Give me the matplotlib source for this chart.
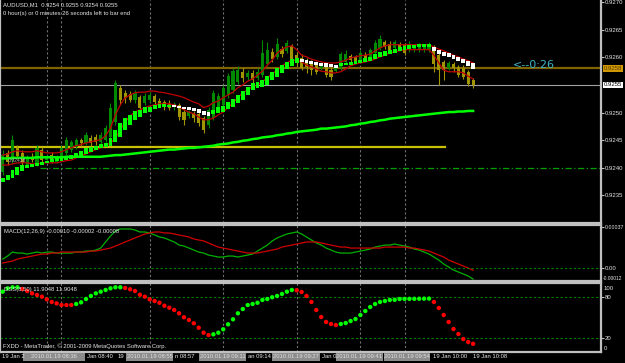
import matplotlib
matplotlib.use("Agg")
import matplotlib.pyplot as plt
from matplotlib.patches import Rectangle
import numpy as np

# AUDUSD M1, 19 Jan 2010, one value per bar (oldest first)
opens = [0.92393, 0.92427, 0.92414, 0.92436, 0.92427, 0.92405, 0.92420, 0.92405, 0.92433, 0.92414,
         0.92423, 0.92411, 0.92418, 0.92427, 0.92433, 0.92438, 0.92451, 0.92445, 0.92454, 0.92456,
         0.92447, 0.92451, 0.92456, 0.92483, 0.92545, 0.92536, 0.92534, 0.92523, 0.92528, 0.92518,
         0.92523, 0.92530, 0.92521, 0.92519, 0.92516, 0.92510, 0.92514, 0.92501, 0.92494, 0.92499,
         0.92498, 0.92490, 0.92478, 0.92490, 0.92505, 0.92514, 0.92532, 0.92541, 0.92556, 0.92574,
         0.92565, 0.92572, 0.92563, 0.92568, 0.92588, 0.92610, 0.92601, 0.92615, 0.92612, 0.92621,
         0.92604, 0.92599, 0.92595, 0.92590, 0.92586, 0.92581, 0.92585, 0.92577, 0.92575, 0.92581,
         0.92592, 0.92603, 0.92601, 0.92595, 0.92604, 0.92601, 0.92608, 0.92617, 0.92628, 0.92624,
         0.92617, 0.92624, 0.92623, 0.92614, 0.92614, 0.92614, 0.92614, 0.92614, 0.92617, 0.92604,
         0.92592, 0.92581, 0.92588, 0.92583, 0.92581, 0.92574, 0.92559]
highs = [0.92433, 0.92433, 0.92460, 0.92442, 0.92433, 0.92423, 0.92427, 0.92442, 0.92438, 0.92423,
         0.92429, 0.92423, 0.92442, 0.92456, 0.92451, 0.92454, 0.92454, 0.92465, 0.92460, 0.92461,
         0.92465, 0.92478, 0.92518, 0.92559, 0.92550, 0.92541, 0.92539, 0.92541, 0.92532, 0.92536,
         0.92537, 0.92534, 0.92527, 0.92523, 0.92523, 0.92519, 0.92518, 0.92509, 0.92505, 0.92503,
         0.92503, 0.92494, 0.92510, 0.92541, 0.92536, 0.92550, 0.92572, 0.92581, 0.92585, 0.92581,
         0.92577, 0.92577, 0.92581, 0.92632, 0.92628, 0.92617, 0.92635, 0.92621, 0.92632, 0.92624,
         0.92610, 0.92606, 0.92599, 0.92595, 0.92592, 0.92592, 0.92588, 0.92583, 0.92586, 0.92610,
         0.92614, 0.92606, 0.92604, 0.92614, 0.92610, 0.92617, 0.92632, 0.92641, 0.92632, 0.92630,
         0.92632, 0.92628, 0.92626, 0.92630, 0.92623, 0.92626, 0.92623, 0.92628, 0.92623, 0.92610,
         0.92595, 0.92594, 0.92592, 0.92586, 0.92586, 0.92577, 0.92563]
lows = [0.92387, 0.92405, 0.92409, 0.92418, 0.92405, 0.92402, 0.92411, 0.92404, 0.92409, 0.92411,
        0.92409, 0.92409, 0.92414, 0.92423, 0.92429, 0.92434, 0.92440, 0.92442, 0.92440, 0.92442,
        0.92443, 0.92447, 0.92451, 0.92478, 0.92514, 0.92518, 0.92519, 0.92518, 0.92505, 0.92514,
        0.92519, 0.92516, 0.92510, 0.92505, 0.92505, 0.92505, 0.92487, 0.92478, 0.92490, 0.92483,
        0.92476, 0.92463, 0.92472, 0.92487, 0.92501, 0.92509, 0.92527, 0.92536, 0.92552, 0.92556,
        0.92559, 0.92554, 0.92559, 0.92565, 0.92585, 0.92592, 0.92597, 0.92601, 0.92608, 0.92588,
        0.92585, 0.92577, 0.92572, 0.92568, 0.92570, 0.92577, 0.92565, 0.92559, 0.92574, 0.92577,
        0.92588, 0.92592, 0.92590, 0.92592, 0.92595, 0.92597, 0.92604, 0.92614, 0.92615, 0.92610,
        0.92614, 0.92615, 0.92604, 0.92610, 0.92610, 0.92610, 0.92610, 0.92610, 0.92574, 0.92550,
        0.92559, 0.92577, 0.92574, 0.92565, 0.92561, 0.92548, 0.92545]
closes = [0.92423, 0.92411, 0.92451, 0.92422, 0.92409, 0.92420, 0.92414, 0.92436, 0.92414, 0.92420,
          0.92413, 0.92420, 0.92436, 0.92451, 0.92447, 0.92451, 0.92445, 0.92460, 0.92445, 0.92447,
          0.92460, 0.92472, 0.92509, 0.92554, 0.92523, 0.92527, 0.92523, 0.92536, 0.92509, 0.92530,
          0.92532, 0.92519, 0.92514, 0.92512, 0.92509, 0.92516, 0.92492, 0.92487, 0.92501, 0.92490,
          0.92481, 0.92469, 0.92505, 0.92536, 0.92530, 0.92545, 0.92566, 0.92575, 0.92577, 0.92563,
          0.92572, 0.92559, 0.92574, 0.92608, 0.92614, 0.92597, 0.92624, 0.92606, 0.92626, 0.92592,
          0.92590, 0.92581, 0.92583, 0.92577, 0.92574, 0.92588, 0.92568, 0.92565, 0.92583, 0.92606,
          0.92606, 0.92595, 0.92594, 0.92608, 0.92599, 0.92614, 0.92626, 0.92633, 0.92619, 0.92614,
          0.92628, 0.92619, 0.92608, 0.92624, 0.92619, 0.92621, 0.92619, 0.92624, 0.92588, 0.92577,
          0.92577, 0.92590, 0.92581, 0.92568, 0.92565, 0.92552, 0.92550]

# smoothed heiken ashi blocks (lime = up, white = down)
ha_open = [0.92375, 0.92378, 0.92382, 0.92387, 0.92395, 0.92400, 0.92402, 0.92404, 0.92405, 0.92409,
           0.92411, 0.92413, 0.92413, 0.92414, 0.92416, 0.92418, 0.92422, 0.92425, 0.92429, 0.92433,
           0.92436, 0.92438, 0.92440, 0.92447, 0.92456, 0.92469, 0.92478, 0.92487, 0.92492, 0.92499,
           0.92501, 0.92507, 0.92509, 0.92510, 0.92510, 0.92514, 0.92512, 0.92510, 0.92510, 0.92509,
           0.92507, 0.92503, 0.92501, 0.92498, 0.92499, 0.92501, 0.92507, 0.92510, 0.92518, 0.92523,
           0.92532, 0.92541, 0.92545, 0.92547, 0.92550, 0.92559, 0.92565, 0.92572, 0.92579, 0.92585,
           0.92590, 0.92597, 0.92595, 0.92594, 0.92592, 0.92590, 0.92590, 0.92588, 0.92586, 0.92585,
           0.92586, 0.92586, 0.92588, 0.92590, 0.92592, 0.92594, 0.92597, 0.92601, 0.92603, 0.92606,
           0.92608, 0.92612, 0.92614, 0.92615, 0.92617, 0.92619, 0.92619, 0.92619, 0.92619, 0.92614,
           0.92610, 0.92608, 0.92604, 0.92601, 0.92597, 0.92594, 0.92590]
ha_close = [0.92382, 0.92387, 0.92396, 0.92402, 0.92405, 0.92405, 0.92407, 0.92409, 0.92411, 0.92413,
            0.92416, 0.92418, 0.92420, 0.92420, 0.92423, 0.92427, 0.92431, 0.92436, 0.92438, 0.92440,
            0.92443, 0.92445, 0.92454, 0.92469, 0.92481, 0.92490, 0.92496, 0.92503, 0.92505, 0.92510,
            0.92510, 0.92514, 0.92516, 0.92516, 0.92514, 0.92510, 0.92509, 0.92507, 0.92505, 0.92503,
            0.92499, 0.92496, 0.92494, 0.92505, 0.92510, 0.92512, 0.92519, 0.92525, 0.92532, 0.92539,
            0.92547, 0.92554, 0.92556, 0.92559, 0.92566, 0.92574, 0.92581, 0.92586, 0.92592, 0.92597,
            0.92599, 0.92592, 0.92590, 0.92588, 0.92586, 0.92585, 0.92583, 0.92583, 0.92581, 0.92590,
            0.92590, 0.92592, 0.92594, 0.92595, 0.92599, 0.92601, 0.92606, 0.92610, 0.92612, 0.92614,
            0.92615, 0.92619, 0.92621, 0.92623, 0.92623, 0.92624, 0.92624, 0.92624, 0.92612, 0.92606,
            0.92603, 0.92601, 0.92597, 0.92594, 0.92590, 0.92585, 0.92579]

# red channel (MA of highs / MA of lows) and the slow green MA
ma_high = [0.92423, 0.92425, 0.92429, 0.92431, 0.92429, 0.92429, 0.92429, 0.92431, 0.92429, 0.92427,
           0.92427, 0.92427, 0.92429, 0.92433, 0.92436, 0.92440, 0.92442, 0.92445, 0.92447, 0.92449,
           0.92451, 0.92458, 0.92472, 0.92496, 0.92514, 0.92527, 0.92532, 0.92536, 0.92537, 0.92537,
           0.92539, 0.92539, 0.92537, 0.92536, 0.92534, 0.92532, 0.92530, 0.92527, 0.92523, 0.92519,
           0.92516, 0.92509, 0.92512, 0.92518, 0.92521, 0.92527, 0.92532, 0.92537, 0.92545, 0.92550,
           0.92557, 0.92561, 0.92568, 0.92575, 0.92586, 0.92595, 0.92608, 0.92615, 0.92619, 0.92621,
           0.92614, 0.92604, 0.92601, 0.92597, 0.92594, 0.92592, 0.92590, 0.92590, 0.92590, 0.92592,
           0.92595, 0.92599, 0.92601, 0.92603, 0.92604, 0.92606, 0.92612, 0.92617, 0.92621, 0.92623,
           0.92623, 0.92623, 0.92623, 0.92623, 0.92623, 0.92623, 0.92623, 0.92623, 0.92619, 0.92615,
           0.92612, 0.92608, 0.92604, 0.92601, 0.92597, 0.92594, 0.92590]
ma_low = [0.92405, 0.92405, 0.92407, 0.92409, 0.92409, 0.92409, 0.92407, 0.92407, 0.92409, 0.92409,
          0.92409, 0.92409, 0.92411, 0.92413, 0.92414, 0.92418, 0.92422, 0.92425, 0.92429, 0.92433,
          0.92436, 0.92440, 0.92445, 0.92454, 0.92469, 0.92483, 0.92494, 0.92501, 0.92505, 0.92509,
          0.92512, 0.92514, 0.92516, 0.92516, 0.92516, 0.92514, 0.92510, 0.92505, 0.92501, 0.92498,
          0.92492, 0.92487, 0.92487, 0.92490, 0.92496, 0.92501, 0.92509, 0.92518, 0.92527, 0.92536,
          0.92541, 0.92547, 0.92550, 0.92556, 0.92563, 0.92570, 0.92577, 0.92585, 0.92590, 0.92595,
          0.92595, 0.92592, 0.92586, 0.92583, 0.92579, 0.92575, 0.92574, 0.92572, 0.92572, 0.92574,
          0.92579, 0.92585, 0.92588, 0.92590, 0.92592, 0.92594, 0.92597, 0.92601, 0.92604, 0.92608,
          0.92610, 0.92612, 0.92614, 0.92614, 0.92614, 0.92614, 0.92614, 0.92614, 0.92604, 0.92590,
          0.92577, 0.92574, 0.92574, 0.92574, 0.92572, 0.92566, 0.92561]
ma_slow = [0.92417, 0.92417, 0.92418, 0.92418, 0.92418, 0.92418, 0.92418, 0.92419, 0.92419, 0.92419,
           0.92419, 0.92419, 0.92419, 0.92420, 0.92420, 0.92420, 0.92420, 0.92420, 0.92420, 0.92420,
           0.92420, 0.92421, 0.92422, 0.92423, 0.92423, 0.92424, 0.92425, 0.92426, 0.92427, 0.92428,
           0.92429, 0.92430, 0.92431, 0.92432, 0.92433, 0.92433, 0.92434, 0.92435, 0.92436, 0.92436,
           0.92437, 0.92438, 0.92439, 0.92440, 0.92442, 0.92443, 0.92444, 0.92446, 0.92447, 0.92449,
           0.92450, 0.92452, 0.92453, 0.92455, 0.92456, 0.92457, 0.92459, 0.92460, 0.92462, 0.92463,
           0.92465, 0.92466, 0.92467, 0.92468, 0.92469, 0.92471, 0.92471, 0.92472, 0.92473, 0.92474,
           0.92475, 0.92477, 0.92478, 0.92480, 0.92481, 0.92483, 0.92484, 0.92486, 0.92487, 0.92489,
           0.92490, 0.92491, 0.92492, 0.92493, 0.92494, 0.92495, 0.92496, 0.92497, 0.92498, 0.92499,
           0.92500, 0.92501, 0.92501, 0.92502, 0.92502, 0.92503, 0.92503]

# MACD(12,26,9) main and signal
macd_main = [0.000081, 0.000108, 0.000144, 0.000135, 0.000135, 0.000126, 0.000135, 0.000144, 0.000135, 0.000144,
             0.000144, 0.000135, 0.000135, 0.000135, 0.000135, 0.000144, 0.000144, 0.000153, 0.000153, 0.000162,
             0.000180, 0.000235, 0.000289, 0.000334, 0.000352, 0.000352, 0.000352, 0.000343, 0.000325, 0.000325,
             0.000316, 0.000298, 0.000280, 0.000271, 0.000253, 0.000235, 0.000207, 0.000198, 0.000180, 0.000162,
             0.000144, 0.000135, 0.000117, 0.000108, 0.000099, 0.000099, 0.000108, 0.000108, 0.000099, 0.000108,
             0.000117, 0.000126, 0.000153, 0.000180, 0.000207, 0.000244, 0.000271, 0.000289, 0.000307, 0.000316,
             0.000325, 0.000307, 0.000280, 0.000253, 0.000226, 0.000207, 0.000180, 0.000162, 0.000144, 0.000135,
             0.000135, 0.000135, 0.000144, 0.000153, 0.000162, 0.000171, 0.000189, 0.000198, 0.000207, 0.000207,
             0.000216, 0.000207, 0.000198, 0.000189, 0.000171, 0.000162, 0.000144, 0.000126, 0.000099, 0.000072,
             0.000036, 0.000009, -0.000018, -0.000036, -0.000054, -0.000072, -0.000100]
macd_signal = [0.000045, 0.000054, 0.000063, 0.000081, 0.000090, 0.000099, 0.000108, 0.000117, 0.000126, 0.000126,
               0.000135, 0.000135, 0.000144, 0.000144, 0.000144, 0.000144, 0.000144, 0.000144, 0.000153, 0.000153,
               0.000162, 0.000171, 0.000180, 0.000198, 0.000216, 0.000235, 0.000253, 0.000271, 0.000289, 0.000307,
               0.000316, 0.000325, 0.000325, 0.000316, 0.000316, 0.000307, 0.000298, 0.000289, 0.000280, 0.000262,
               0.000253, 0.000244, 0.000226, 0.000207, 0.000189, 0.000180, 0.000171, 0.000162, 0.000153, 0.000144,
               0.000135, 0.000135, 0.000135, 0.000144, 0.000153, 0.000162, 0.000171, 0.000189, 0.000198, 0.000207,
               0.000216, 0.000226, 0.000235, 0.000235, 0.000235, 0.000226, 0.000216, 0.000207, 0.000198, 0.000189,
               0.000189, 0.000180, 0.000180, 0.000180, 0.000180, 0.000180, 0.000180, 0.000180, 0.000189, 0.000189,
               0.000189, 0.000189, 0.000189, 0.000180, 0.000180, 0.000171, 0.000162, 0.000153, 0.000135, 0.000117,
               0.000099, 0.000072, 0.000054, 0.000036, 0.000018, 0.000000, -0.000020]

# DSS oscillator
dss = [87.4, 92.3, 93.8, 93.8, 91.3, 88.4, 85.0, 82.6, 80.2, 76.3,
       72.5, 70.5, 68.1, 68.1, 68.1, 69.6, 72.0, 76.8, 81.2, 85.0,
       87.4, 89.9, 92.3, 93.8, 93.8, 92.8, 90.9, 88.4, 83.0, 80.2,
       76.3, 73.9, 71.4, 67.1, 64.2, 60.9, 56.1, 50.3, 46.4, 41.6,
       35.2, 28.0, 24.6, 25.6, 28.0, 32.9, 40.1, 47.4, 56.1, 62.3,
       68.1, 69.6, 71.4, 75.4, 76.8, 79.3, 81.2, 84.1, 87.4, 89.9,
       89.5, 87.0, 81.2, 72.5, 60.9, 50.7, 43.5, 40.6, 39.1, 40.6,
       42.0, 44.9, 47.8, 53.6, 59.4, 65.2, 69.6, 72.5, 73.9, 75.4,
       75.6, 76.8, 76.9, 77.0, 77.1, 77.2, 77.3, 77.4, 72.5, 63.8,
       53.6, 43.5, 33.3, 26.1, 18.8, 14.5, 11.9]

# horizontal levels
resist_level = 0.92580
support_level = 0.92438
round_level = 0.92400
bid = 0.92550
price_ticks = [0.9235, 0.9240, 0.9245, 0.9250, 0.9260, 0.9265, 0.9270]

# period separators (bar index) and what shows of the time axis labels
sep_bars = [9, 12, 30, 45, 60, 73, 82]
time_labels = [(2, "19 Jan 2"), (87, "Jan 08:40"), (118, "19"), (175, "n 08:57"),
               (248, "an 09:14"), (322, "Jan 0"), (433, "19 Jan 10:00"), (473, "19 Jan 10:08")]
vline_labels = [(23, 85, "2010.01.19 08:36"), (126, 173, "2010.01.19 08:55"), (199, 246, "2010.01.19 09:11"),
                (272, 320, "2010.01.19 09:27"), (336, 383, "2010.01.19 09:41"), (384, 430, "2010.01.19 09:54")]

BG = "black"
FRAME = "#c0c0c0"
TXT = "#e6e6e6"
plt.rcParams['font.family'] = ['Liberation Sans', 'DejaVu Sans']
FS = 4.2
AFS = 4.3  # right axis labels

W, H = 625.0, 363.0


def fy(y):
    return 1 - y / H


fig = plt.figure(figsize=(6.25, 3.63), dpi=100)
fig.patch.set_facecolor(BG)

ax = fig.add_axes([0, fy(223), 601 / W, 223 / H])
ax_macd = fig.add_axes([0, fy(281), 601 / W, 56 / H])
ax_dss = fig.add_axes([0, fy(352), 601 / W, 69 / H])

bars = np.arange(len(opens))

for a in (ax, ax_macd, ax_dss):
    a.set_facecolor(BG)
    a.set_xlim(-0.55, 122.1)
    a.set_xticks([])
    a.yaxis.tick_right()
    a.tick_params(axis='y', colors=FRAME, labelcolor=TXT, labelsize=AFS, length=2.2, width=0.8, pad=0.6)
    for s in a.spines.values():
        s.set_color(FRAME)
        s.set_linewidth(1.6)
    for g in sep_bars:
        a.axvline(g, color='#707070', lw=0.8, ls=(0, (2, 2)), zorder=0)
ax.spines['top'].set_visible(False)

# --- main chart ---
ax.set_ylim(0.92300, 0.92704)
ax.set_yticks(price_ticks)
ax.set_yticklabels([f"{p:.4f}" for p in price_ticks])

o = np.array(opens)
c = np.array(closes)
up = c >= o
cols = np.where(up, '#008a00', '#a09400')
ax.vlines(bars, lows, highs, colors=cols, lw=0.8, zorder=2)
ax.bar(bars, np.maximum(np.abs(c - o), 0.000015), bottom=np.minimum(o, c), width=0.62,
       color=cols, lw=0, zorder=2)

ax.plot(bars, ma_high, color='#c00000', lw=0.9, zorder=3)
ax.plot(bars, ma_low, color='#c00000', lw=0.9, zorder=3)

hao = np.array(ha_open)
hac = np.array(ha_close)
ha_cols = np.where(hac >= hao, '#00ff00', '#ffffff')
ax.bar(bars, np.maximum(np.abs(hac - hao), 0.00003), bottom=np.minimum(hao, hac), width=0.8,
       color=ha_cols, lw=0, zorder=4)

ax.plot(bars, ma_slow, color='#00ff00', lw=1.8, zorder=3)

ax.axhline(resist_level, color='#806400', lw=1.6, zorder=1)
ax.plot([-0.55, 90.3], [support_level, support_level], color='#c8c000', lw=1.6, zorder=1)
ax.plot([7.6, 122.1], [round_level, round_level], color='#00a000', lw=0.9, ls=(0, (5, 2, 1, 2)), zorder=1)
ax.axhline(bid, color='#a0a0a0', lw=0.8, zorder=1)

fig.text(3 / W, fy(5), "AUDUSD,M1  0.9254 0.9255 0.9254 0.9255", color=TXT, fontsize=FS, va='center')
fig.text(3 / W, fy(13), "0 hour(s) or 0 minutes 26 seconds left to bar end", color=TXT, fontsize=FS, va='center')
fig.text(513 / W, fy(65), "<--0:26", color='#3cb4c8', fontsize=8, family='DejaVu Sans', va='center')
fig.text(8 / W, fy(161), "0.92438", color='#b0b0b0', fontsize=3.6, va='center')

fig.text(604 / W, fy(68.5), "0.9258", color='#5a3c00', fontsize=AFS, va='center',
         bbox=dict(boxstyle='square,pad=0.12', fc='#d09800', ec='none'))
fig.text(604 / W, fy(85), "0.9255", color='black', fontsize=AFS, va='center',
         bbox=dict(boxstyle='square,pad=0.12', fc='white', ec='none'))

# --- MACD ---
ax_macd.set_ylim(-0.000117, 0.000388)
ax_macd.plot(bars, macd_main, color='#00b000', lw=0.9)
ax_macd.plot(bars, macd_signal, color='#d00000', lw=0.9)
ax_macd.axhline(0, color='#008000', lw=0.8, ls=(0, (2, 2)))
ax_macd.set_yticks([0.00037, 0.0])
ax_macd.set_yticklabels(["0.00037", "0.00"])
ax_macd.get_yticklabels()[0].set_fontsize(3.8)
fig.text(603 / W, fy(278), "-0.00012", color=TXT, fontsize=3.5, va='center')
fig.text(4 / W, fy(231), "MACD(12,26,9) -0.00010 -0.00002 -0.00008", color=TXT, fontsize=FS, va='center')

# --- DSS ---
ax_dss.set_ylim(0, 100)
dss_cols = []
cur = '#00ff00'
for i in range(len(dss)):
    if i > 0 and dss[i] > dss[i - 1]:
        cur = '#00ff00'
    elif i > 0 and dss[i] < dss[i - 1]:
        cur = '#ff0000'
    dss_cols.append(cur)
ax_dss.scatter(bars, dss, s=10, c=dss_cols, lw=0, zorder=3)
for lvl in (80, 20):
    ax_dss.axhline(lvl, color='#008000', lw=0.8, ls=(0, (2, 2)))
ax_dss.set_yticks([80, 20])
ax_dss.set_yticklabels(["80", "20"])
fig.text(604 / W, fy(288), "100", color=TXT, fontsize=AFS, va='center')
fig.text(604 / W, fy(348), "0", color=TXT, fontsize=AFS, va='center')
fig.text(4 / W, fy(289), "DSS(8,50) 11.9048 11.9048", color=TXT, fontsize=FS, va='center')
fig.text(3 / W, fy(346), "FXDD - MetaTrader, \u00a9 2001-2009 MetaQuotes Software Corp.", color=TXT,
         fontsize=FS, va='center')

# --- time axis ---
for x, t in time_labels:
    fig.text(x / W, fy(357), t, color=TXT, fontsize=FS, va='center')
for x0, x1, t in vline_labels:
    fig.patches.append(Rectangle((x0 / W, fy(361)), (x1 - x0) / W, 8 / H, transform=fig.transFigure,
                                 fc='#8c8c8c', ec='none', zorder=2))
    fig.text((x0 + x1) / 2 / W, fy(357), t, color='#e0e0e0', fontsize=FS, va='center', ha='center', zorder=3)

fig.savefig("out.png", dpi=100, facecolor=fig.get_facecolor())
